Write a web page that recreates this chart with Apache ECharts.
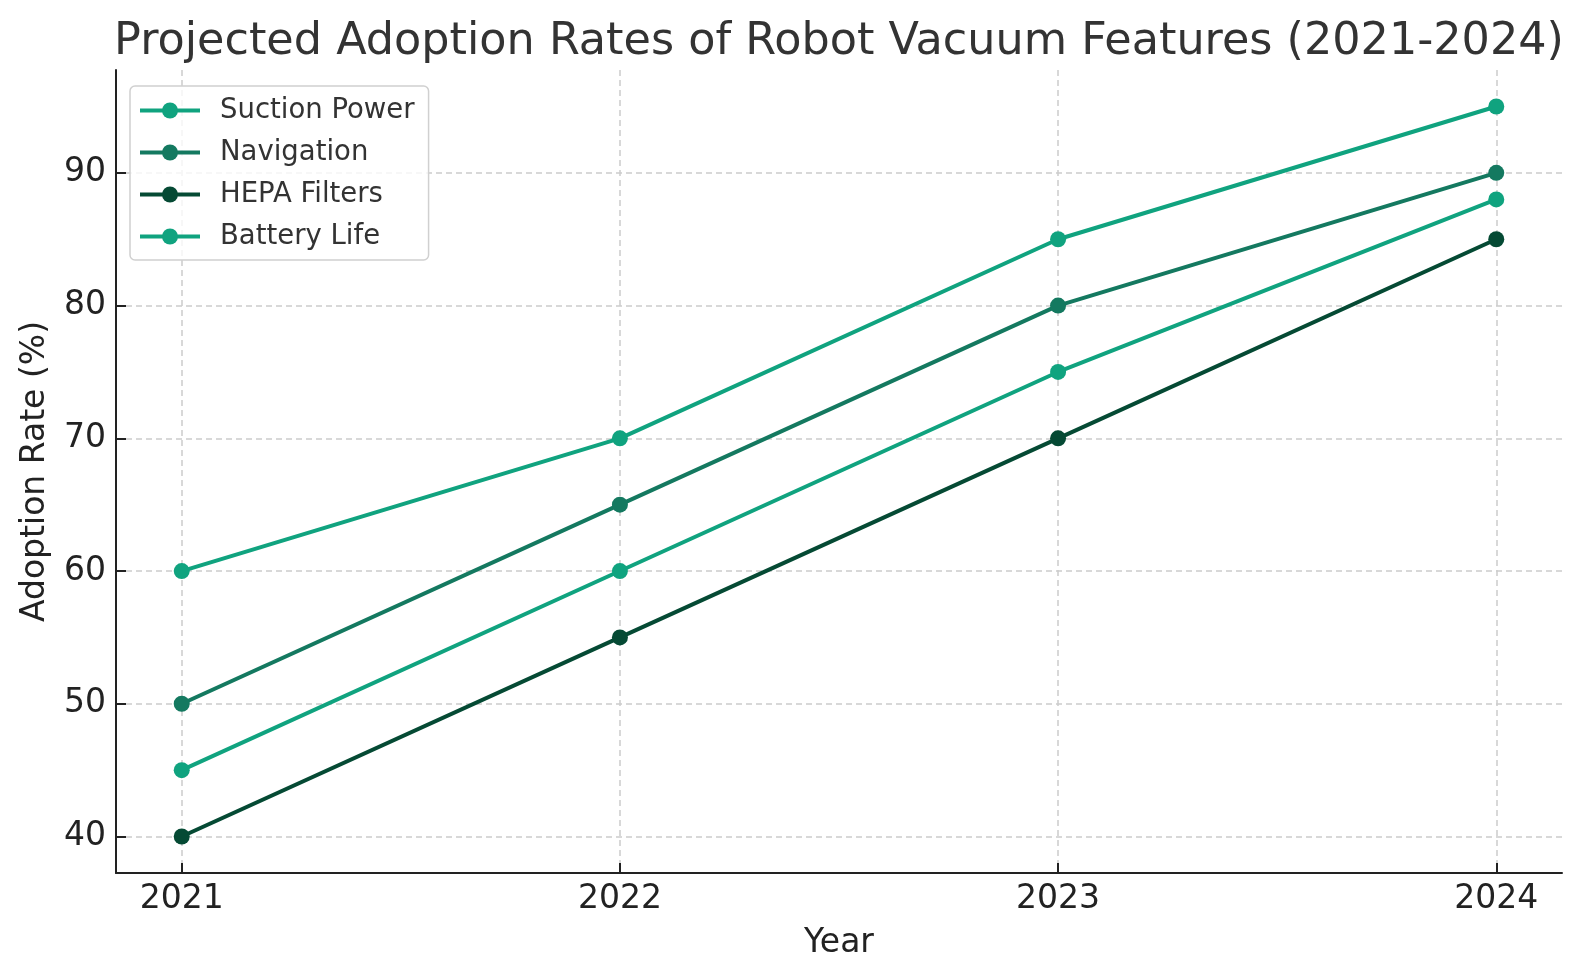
<!DOCTYPE html>
<html>
<head>
<meta charset="utf-8">
<script src="https://cdn.jsdelivr.net/npm/echarts@6/dist/echarts.min.js"></script>
<style>
html,body{margin:0;padding:0;background:#fff;}
#chart{width:1583px;height:980px;}
</style>
</head>
<body>
<div id="chart"></div>
<script>
const years = [2021, 2022, 2023, 2024];
const suctionPower = [60, 70, 85, 95];
const navigation = [50, 65, 80, 90];
const hepaFilters = [40, 55, 70, 85];
const batteryLife = [45, 60, 75, 88];
const yTicks = [40, 50, 60, 70, 80, 90];
const seriesNames = ['Suction Power', 'Navigation', 'HEPA Filters', 'Battery Life'];
const seriesData = [suctionPower, navigation, hepaFilters, batteryLife];
const colors = ['#10a37f', '#147960', '#054a34', '#10a37f'];

const FONT = 'DejaVu Sans';
const chart = echarts.init(document.getElementById('chart'), null, {renderer: 'canvas'});

const series = seriesNames.map((name, i) => ({
  name: name,
  type: 'line',
  data: years.map((y, j) => [y, seriesData[i][j]]),
  symbol: 'circle',
  symbolSize: 16,
  clip: false,
  lineStyle: {width: 4, color: colors[i]},
  itemStyle: {color: colors[i]},
  emphasis: {disabled: true}
}));

chart.setOption({
  animation: false,
  backgroundColor: '#ffffff',
  title: {
    text: 'Projected Adoption Rates of Robot Vacuum Features (2021-2024)',
    left: 834,
    textAlign: 'center',
    top: 15,
    textStyle: {fontFamily: FONT, fontSize: 44.5, fontWeight: 'normal', color: '#333333'}
  },
  legend: {
    left: 130,
    top: 86,
    orient: 'vertical',
    itemWidth: 60,
    itemHeight: 20,
    itemGap: 11,
    padding: [9, 14, 8, 8],
    backgroundColor: 'rgba(255,255,255,0.8)',
    borderColor: '#d0d0d0',
    borderWidth: 1.5,
    borderRadius: 5,
    lineStyle: {width: 4},
    textStyle: {fontFamily: FONT, fontSize: 27.5, color: '#333333', lineHeight: 31, padding: [0, 0, 0, 15]},
    data: seriesNames
  },
  grid: {left: 116, right: 21, top: 70, bottom: 107, containLabel: false},
  xAxis: {
    type: 'value',
    min: 2020.85,
    max: 2024.15,
    name: 'Year',
    nameLocation: 'middle',
    nameGap: 54,
    nameTextStyle: {fontFamily: FONT, fontSize: 33, color: '#222222'},
    axisLine: {show: true, onZero: false, lineStyle: {color: '#222222', width: 2}},
    axisTick: {show: true, inside: true, length: 10, customValues: years, lineStyle: {color: '#222222', width: 2}},
    axisLabel: {show: true, customValues: years, margin: 10, fontFamily: FONT, fontSize: 33, color: '#222222', formatter: v => String(v)},
    splitLine: {show: true, lineStyle: {color: '#cccccc', width: 1.5, type: [6, 4]}}
  },
  yAxis: {
    type: 'value',
    min: 37.25,
    max: 97.75,
    name: 'Adoption Rate (%)',
    nameLocation: 'middle',
    nameGap: 64,
    nameRotate: 90,
    nameTextStyle: {fontFamily: FONT, fontSize: 33, color: '#222222'},
    axisLine: {show: true, onZero: false, lineStyle: {color: '#222222', width: 2}},
    axisTick: {show: true, inside: true, length: 10, customValues: yTicks, lineStyle: {color: '#222222', width: 2}},
    axisLabel: {show: true, customValues: yTicks, margin: 10, fontFamily: FONT, fontSize: 33, color: '#222222'},
    splitLine: {show: true, lineStyle: {color: '#cccccc', width: 1.5, type: [6, 4]}}
  },
  series: series
});
</script>
</body>
</html>
